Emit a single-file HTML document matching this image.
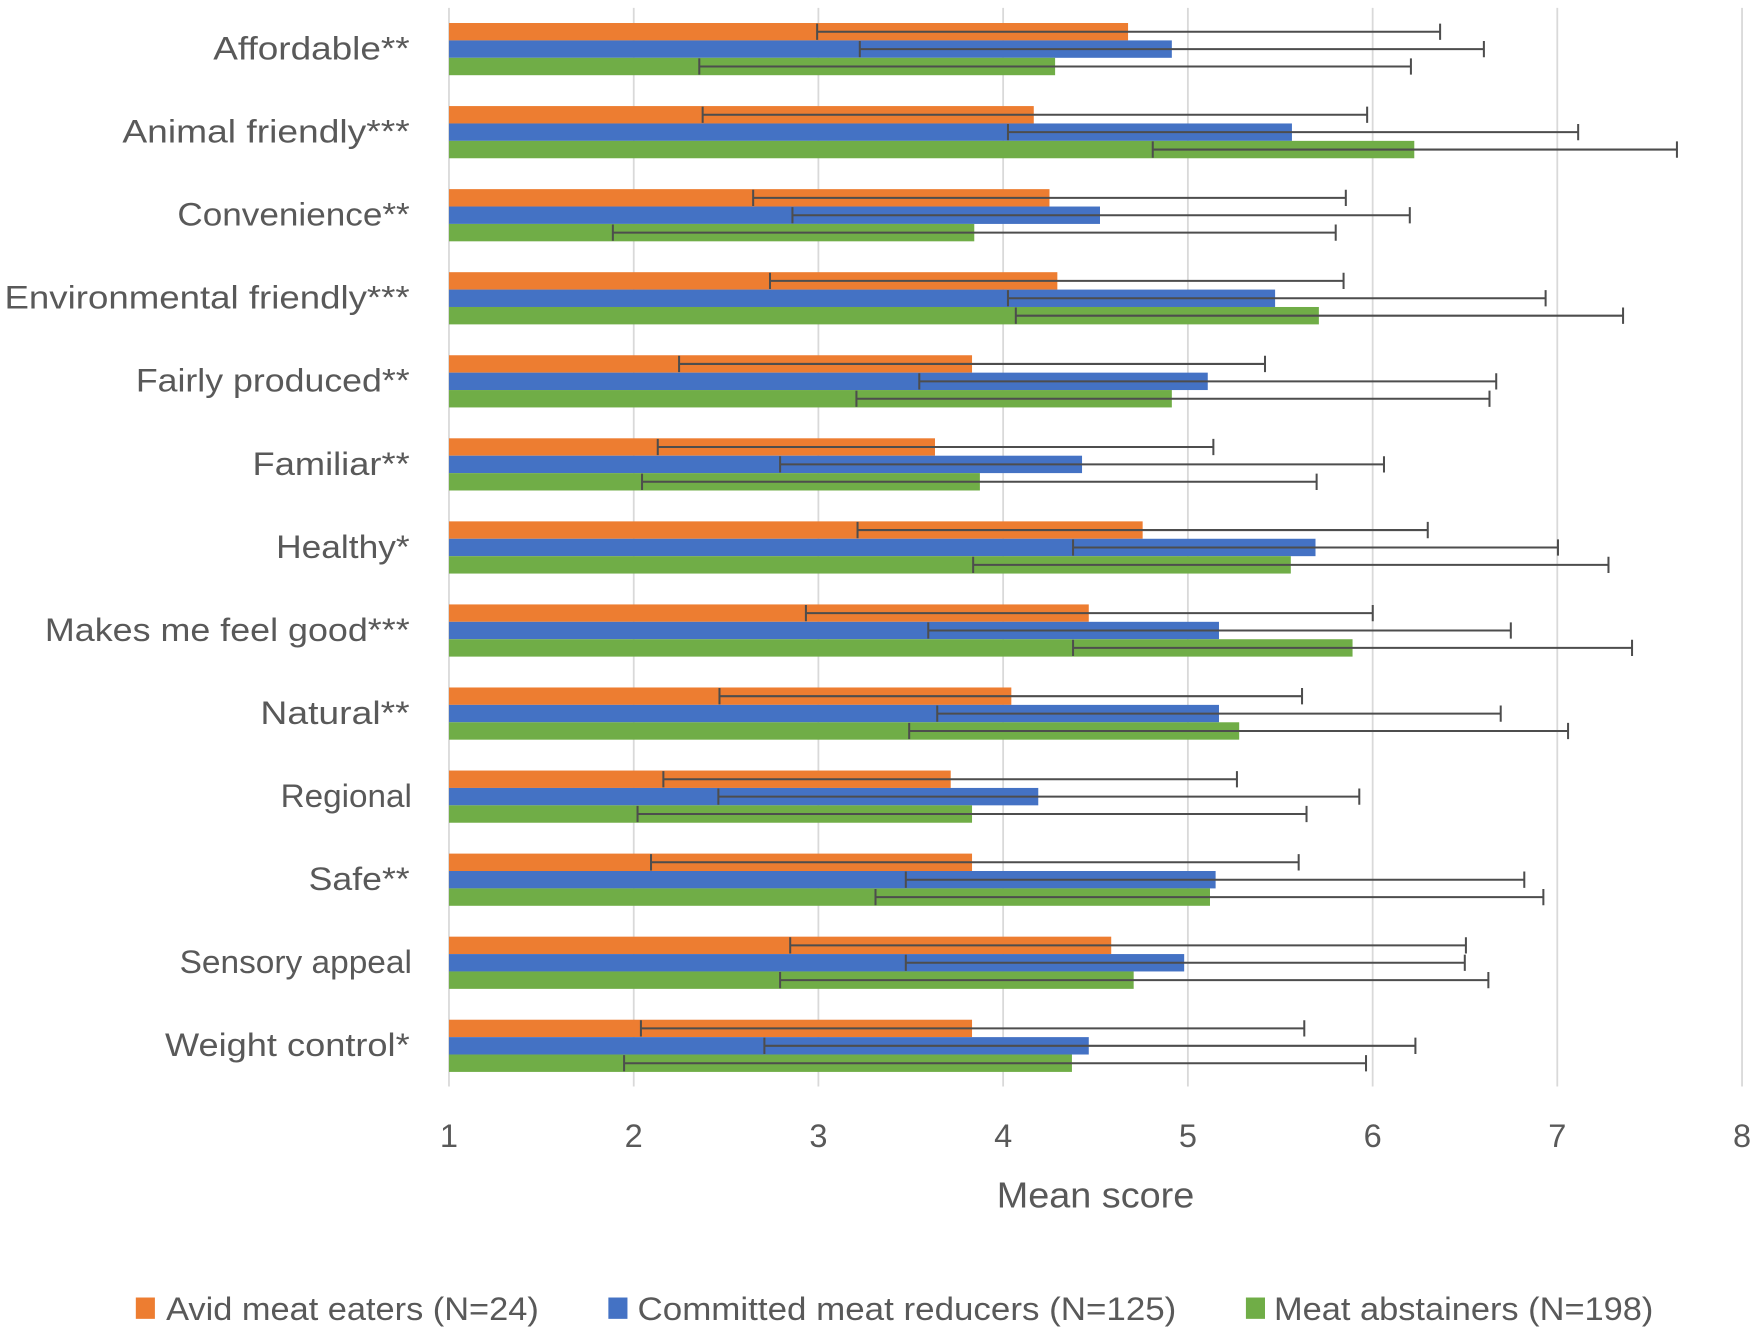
<!DOCTYPE html>
<html><head><meta charset="utf-8"><style>
html,body{margin:0;padding:0;background:#fff;}
svg{display:block;}
text{font-family:"Liberation Sans",Arial,sans-serif;fill:#595959;}
</style></head><body>
<svg width="1760" height="1334" viewBox="0 0 1568 1188.5" preserveAspectRatio="none" xmlns="http://www.w3.org/2000/svg">
<g stroke="#d9d9d9" stroke-width="1.6">
<line x1="400" y1="7" x2="400" y2="968"/>
<line x1="564.6" y1="7" x2="564.6" y2="968"/>
<line x1="729.1" y1="7" x2="729.1" y2="968"/>
<line x1="893.7" y1="7" x2="893.7" y2="968"/>
<line x1="1058.3" y1="7" x2="1058.3" y2="968"/>
<line x1="1222.9" y1="7" x2="1222.9" y2="968"/>
<line x1="1387.4" y1="7" x2="1387.4" y2="968"/>
<line x1="1552" y1="7" x2="1552" y2="968"/>
</g>
<g font-size="29" text-anchor="end" lengthAdjust="spacingAndGlyphs">
<text x="365" y="53" textLength="175" lengthAdjust="spacingAndGlyphs">Affordable**</text>
<text x="365" y="127" textLength="256" lengthAdjust="spacingAndGlyphs">Animal friendly***</text>
<text x="365" y="201" textLength="207" lengthAdjust="spacingAndGlyphs">Convenience**</text>
<text x="365" y="275" textLength="361" lengthAdjust="spacingAndGlyphs">Environmental friendly***</text>
<text x="365" y="349" textLength="244" lengthAdjust="spacingAndGlyphs">Fairly produced**</text>
<text x="365" y="423" textLength="140" lengthAdjust="spacingAndGlyphs">Familiar**</text>
<text x="365" y="497" textLength="119" lengthAdjust="spacingAndGlyphs">Healthy*</text>
<text x="365" y="571" textLength="325" lengthAdjust="spacingAndGlyphs">Makes me feel good***</text>
<text x="365" y="645" textLength="133" lengthAdjust="spacingAndGlyphs">Natural**</text>
<text x="367" y="719" textLength="117" lengthAdjust="spacingAndGlyphs">Regional</text>
<text x="365" y="793" textLength="90" lengthAdjust="spacingAndGlyphs">Safe**</text>
<text x="367" y="867" textLength="207" lengthAdjust="spacingAndGlyphs">Sensory appeal</text>
<text x="365" y="941" textLength="218" lengthAdjust="spacingAndGlyphs">Weight control*</text>
</g>
<g font-size="29" text-anchor="middle">
<text x="400" y="1022">1</text><text x="564.6" y="1022">2</text><text x="729.1" y="1022">3</text><text x="893.7" y="1022">4</text><text x="1058.3" y="1022">5</text><text x="1222.9" y="1022">6</text><text x="1387.4" y="1022">7</text><text x="1552" y="1022">8</text>
</g>
<text x="976" y="1076" font-size="32" text-anchor="middle" textLength="176" lengthAdjust="spacingAndGlyphs">Mean score</text>
<rect x="121" y="1156" width="17" height="19" fill="#ED7D31"/>
<text x="148" y="1176" font-size="29" textLength="332" lengthAdjust="spacingAndGlyphs">Avid meat eaters (N=24)</text>
<rect x="542" y="1156" width="17" height="19" fill="#4472C4"/>
<text x="568" y="1176" font-size="29" textLength="480" lengthAdjust="spacingAndGlyphs">Committed meat reducers (N=125)</text>
<rect x="1110" y="1156" width="17" height="19" fill="#70AD47"/>
<text x="1135" y="1176" font-size="29" textLength="338" lengthAdjust="spacingAndGlyphs">Meat abstainers (N=198)</text>

<g>
<rect x="400" y="20.5" width="605" height="15.5" fill="#ED7D31"/>
<rect x="400" y="36" width="644" height="15.5" fill="#4472C4"/>
<rect x="400" y="51.5" width="540" height="15.5" fill="#70AD47"/>
<rect x="400" y="94.5" width="521" height="15.5" fill="#ED7D31"/>
<rect x="400" y="110" width="751" height="15.5" fill="#4472C4"/>
<rect x="400" y="125.5" width="860" height="15.5" fill="#70AD47"/>
<rect x="400" y="168.5" width="535" height="15.5" fill="#ED7D31"/>
<rect x="400" y="184" width="580" height="15.5" fill="#4472C4"/>
<rect x="400" y="199.5" width="468" height="15.5" fill="#70AD47"/>
<rect x="400" y="242.5" width="542" height="15.5" fill="#ED7D31"/>
<rect x="400" y="258" width="736" height="15.5" fill="#4472C4"/>
<rect x="400" y="273.5" width="775" height="15.5" fill="#70AD47"/>
<rect x="400" y="316.5" width="466" height="15.5" fill="#ED7D31"/>
<rect x="400" y="332" width="676" height="15.5" fill="#4472C4"/>
<rect x="400" y="347.5" width="644" height="15.5" fill="#70AD47"/>
<rect x="400" y="390.5" width="433" height="15.5" fill="#ED7D31"/>
<rect x="400" y="406" width="564" height="15.5" fill="#4472C4"/>
<rect x="400" y="421.5" width="473" height="15.5" fill="#70AD47"/>
<rect x="400" y="464.5" width="618" height="15.5" fill="#ED7D31"/>
<rect x="400" y="480" width="772" height="15.5" fill="#4472C4"/>
<rect x="400" y="495.5" width="750" height="15.5" fill="#70AD47"/>
<rect x="400" y="538.5" width="570" height="15.5" fill="#ED7D31"/>
<rect x="400" y="554" width="686" height="15.5" fill="#4472C4"/>
<rect x="400" y="569.5" width="805" height="15.5" fill="#70AD47"/>
<rect x="400" y="612.5" width="501" height="15.5" fill="#ED7D31"/>
<rect x="400" y="628" width="686" height="15.5" fill="#4472C4"/>
<rect x="400" y="643.5" width="704" height="15.5" fill="#70AD47"/>
<rect x="400" y="686.5" width="447" height="15.5" fill="#ED7D31"/>
<rect x="400" y="702" width="525" height="15.5" fill="#4472C4"/>
<rect x="400" y="717.5" width="466" height="15.5" fill="#70AD47"/>
<rect x="400" y="760.5" width="466" height="15.5" fill="#ED7D31"/>
<rect x="400" y="776" width="683" height="15.5" fill="#4472C4"/>
<rect x="400" y="791.5" width="678" height="15.5" fill="#70AD47"/>
<rect x="400" y="834.5" width="590" height="15.5" fill="#ED7D31"/>
<rect x="400" y="850" width="655" height="15.5" fill="#4472C4"/>
<rect x="400" y="865.5" width="610" height="15.5" fill="#70AD47"/>
<rect x="400" y="908.5" width="466" height="15.5" fill="#ED7D31"/>
<rect x="400" y="924" width="570" height="15.5" fill="#4472C4"/>
<rect x="400" y="939.5" width="555" height="15.5" fill="#70AD47"/>
</g>
<g stroke="#4d4d4d" stroke-width="1.8" fill="none">
<path d="M728 28.25H1283M728 21V35.5M1283 21V35.5"/>
<path d="M766 43.75H1322M766 36.5V51M1322 36.5V51"/>
<path d="M623 59.25H1257M623 52V66.5M1257 52V66.5"/>
<path d="M626 102.25H1218M626 95V109.5M1218 95V109.5"/>
<path d="M898 117.75H1406M898 110.5V125M1406 110.5V125"/>
<path d="M1027 133.25H1494M1027 126V140.5M1494 126V140.5"/>
<path d="M671 176.25H1199M671 169V183.5M1199 169V183.5"/>
<path d="M706 191.75H1256M706 184.5V199M1256 184.5V199"/>
<path d="M546 207.25H1190M546 200V214.5M1190 200V214.5"/>
<path d="M686 250.25H1197M686 243V257.5M1197 243V257.5"/>
<path d="M898 265.75H1377M898 258.5V273M1377 258.5V273"/>
<path d="M905 281.25H1446M905 274V288.5M1446 274V288.5"/>
<path d="M605 324.25H1127M605 317V331.5M1127 317V331.5"/>
<path d="M819 339.75H1333M819 332.5V347M1333 332.5V347"/>
<path d="M763 355.25H1327M763 348V362.5M1327 348V362.5"/>
<path d="M586 398.25H1081M586 391V405.5M1081 391V405.5"/>
<path d="M695 413.75H1233M695 406.5V421M1233 406.5V421"/>
<path d="M572 429.25H1173M572 422V436.5M1173 422V436.5"/>
<path d="M764 472.25H1272M764 465V479.5M1272 465V479.5"/>
<path d="M956 487.75H1388M956 480.5V495M1388 480.5V495"/>
<path d="M867 503.25H1433M867 496V510.5M1433 496V510.5"/>
<path d="M718 546.25H1223M718 539V553.5M1223 539V553.5"/>
<path d="M827 561.75H1346M827 554.5V569M1346 554.5V569"/>
<path d="M956 577.25H1454M956 570V584.5M1454 570V584.5"/>
<path d="M641 620.25H1160M641 613V627.5M1160 613V627.5"/>
<path d="M835 635.75H1337M835 628.5V643M1337 628.5V643"/>
<path d="M810 651.25H1397M810 644V658.5M1397 644V658.5"/>
<path d="M591 694.25H1102M591 687V701.5M1102 687V701.5"/>
<path d="M640 709.75H1211M640 702.5V717M1211 702.5V717"/>
<path d="M568 725.25H1164M568 718V732.5M1164 718V732.5"/>
<path d="M580 768.25H1157M580 761V775.5M1157 761V775.5"/>
<path d="M807 783.75H1358M807 776.5V791M1358 776.5V791"/>
<path d="M780 799.25H1375M780 792V806.5M1375 792V806.5"/>
<path d="M704 842.25H1306M704 835V849.5M1306 835V849.5"/>
<path d="M807 857.75H1305M807 850.5V865M1305 850.5V865"/>
<path d="M695 873.25H1326M695 866V880.5M1326 866V880.5"/>
<path d="M571 916.25H1162M571 909V923.5M1162 909V923.5"/>
<path d="M681 931.75H1261M681 924.5V939M1261 924.5V939"/>
<path d="M556 947.25H1217M556 940V954.5M1217 940V954.5"/>
</g>
</svg>
</body></html>
